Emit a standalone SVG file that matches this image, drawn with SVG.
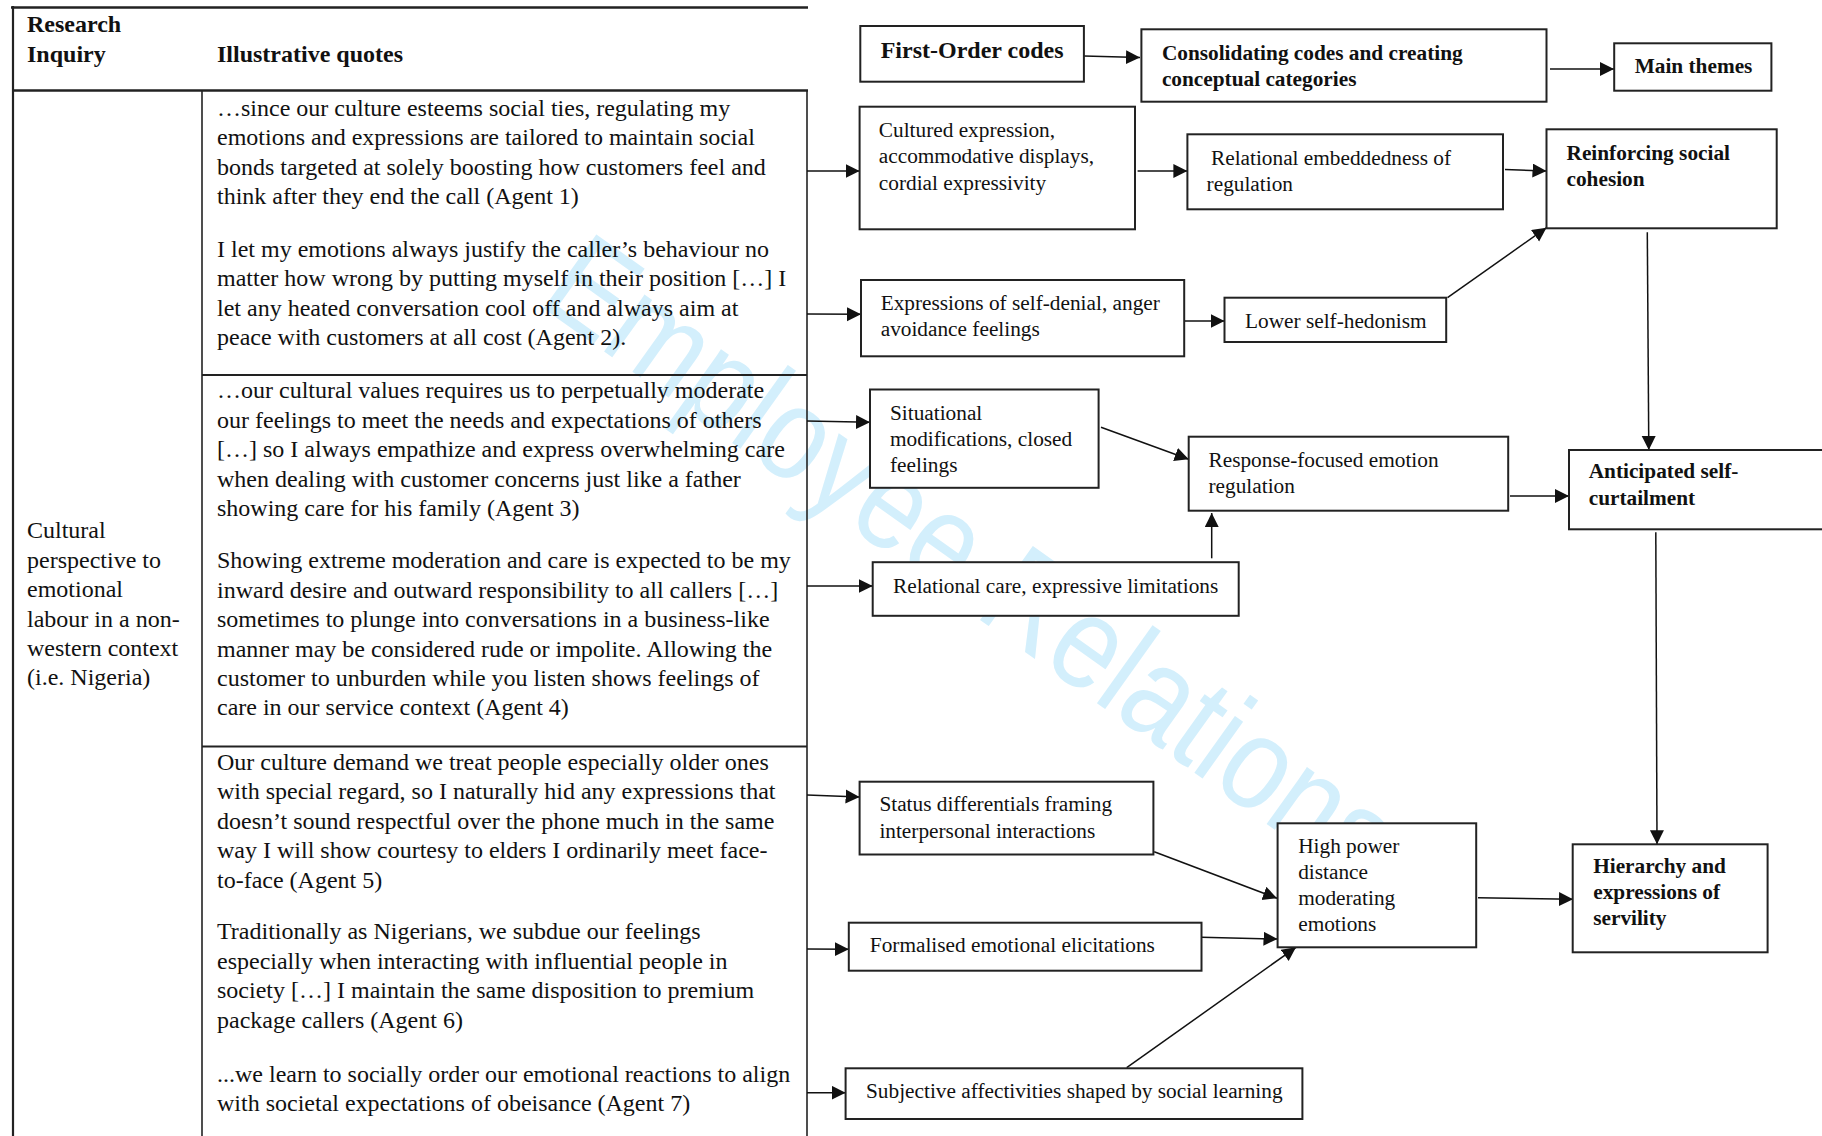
<svg xmlns="http://www.w3.org/2000/svg" width="1822" height="1136" viewBox="0 0 1822 1136">
<style>
.t{font-family:"Liberation Serif","Times New Roman",serif;font-size:24px;fill:#111}
.b{font-weight:bold}
.f{font-family:"Liberation Serif","Times New Roman",serif;font-size:21.3px;fill:#111}
.fb{font-family:"Liberation Serif","Times New Roman",serif;font-size:21.3px;font-weight:bold;fill:#111}
.box{fill:#fff;stroke:#222;stroke-width:2}
.c{stroke:#111;stroke-width:1.5;fill:none;marker-end:url(#ah)}
.rule{stroke:#222;fill:none}
.wm{font-family:"Liberation Sans",Arial,sans-serif;font-size:132px;fill:#d3effc}
</style>
<defs>
<marker id="ah" markerUnits="userSpaceOnUse" markerWidth="15" markerHeight="15" refX="14" refY="7" orient="auto"><path d="M0,0 L14,7 L0,14 z" fill="#111"/></marker>
</defs>
<rect width="1822" height="1136" fill="#fff"/>
<g id="watermark"><text class="wm" transform="translate(536,303) rotate(35.5) scale(0.86,1)">Employee Relations</text></g>
<g id="table">
<line class="rule" x1="11" y1="7.5" x2="808" y2="7.5" stroke-width="2.6"/>
<line class="rule" x1="13" y1="90.5" x2="808" y2="90.5" stroke-width="2.6"/>
<line class="rule" x1="13" y1="6" x2="13" y2="1136" stroke-width="2.2"/>
<line class="rule" x1="202" y1="91" x2="202" y2="1136" stroke-width="1.6"/>
<line class="rule" x1="807" y1="91" x2="807" y2="1136" stroke-width="1.6"/>
<line class="rule" x1="202" y1="375" x2="807" y2="375" stroke-width="1.8"/>
<line class="rule" x1="202" y1="746.5" x2="807" y2="746.5" stroke-width="1.8"/>
<text class="t b" x="27" y="32">Research</text>
<text class="t b" x="27" y="61.5">Inquiry</text>
<text class="t b" x="217" y="61.5">Illustrative quotes</text>
<text class="t" x="27" y="538.3"><tspan x="27">Cultural</tspan><tspan x="27" dy="29.4">perspective to</tspan><tspan x="27" dy="29.4">emotional</tspan><tspan x="27" dy="29.4">labour in a non-</tspan><tspan x="27" dy="29.4">western context</tspan><tspan x="27" dy="29.4">(i.e. Nigeria)</tspan></text>
<text class="t" y="116"><tspan x="217">…since our culture esteems social ties, regulating my</tspan><tspan x="217" dy="29.4">emotions and expressions are tailored to maintain social</tspan><tspan x="217" dy="29.4">bonds targeted at solely boosting how customers feel and</tspan><tspan x="217" dy="29.4">think after they end the call (Agent 1)</tspan></text>
<text class="t" y="257"><tspan x="217">I let my emotions always justify the caller’s behaviour no</tspan><tspan x="217" dy="29.4">matter how wrong by putting myself in their position […] I</tspan><tspan x="217" dy="29.4">let any heated conversation cool off and always aim at</tspan><tspan x="217" dy="29.4">peace with customers at all cost (Agent 2).</tspan></text>
<text class="t" y="398.3"><tspan x="217">…our cultural values requires us to perpetually moderate</tspan><tspan x="217" dy="29.4">our feelings to meet the needs and expectations of others</tspan><tspan x="217" dy="29.4">[…] so I always empathize and express overwhelming care</tspan><tspan x="217" dy="29.4">when dealing with customer concerns just like a father</tspan><tspan x="217" dy="29.4">showing care for his family (Agent 3)</tspan></text>
<text class="t" y="568.3"><tspan x="217">Showing extreme moderation and care is expected to be my</tspan><tspan x="217" dy="29.4">inward desire and outward responsibility to all callers […]</tspan><tspan x="217" dy="29.4">sometimes to plunge into conversations in a business-like</tspan><tspan x="217" dy="29.4">manner may be considered rude or impolite. Allowing the</tspan><tspan x="217" dy="29.4">customer to unburden while you listen shows feelings of</tspan><tspan x="217" dy="29.4">care in our service context (Agent 4)</tspan></text>
<text class="t" y="770"><tspan x="217">Our culture demand we treat people especially older ones</tspan><tspan x="217" dy="29.4">with special regard, so I naturally hid any expressions that</tspan><tspan x="217" dy="29.4">doesn’t sound respectful over the phone much in the same</tspan><tspan x="217" dy="29.4">way I will show courtesy to elders I ordinarily meet face-</tspan><tspan x="217" dy="29.4">to-face (Agent 5)</tspan></text>
<text class="t" y="939.3"><tspan x="217">Traditionally as Nigerians, we subdue our feelings</tspan><tspan x="217" dy="29.4">especially when interacting with influential people in</tspan><tspan x="217" dy="29.4">society […] I maintain the same disposition to premium</tspan><tspan x="217" dy="29.4">package callers (Agent 6)</tspan></text>
<text class="t" y="1081.7"><tspan x="217">...we learn to socially order our emotional reactions to align</tspan><tspan x="217" dy="29.4">with societal expectations of obeisance (Agent 7)</tspan></text>
</g>
<g id="connectors">
<line class="c" x1="1084" y1="56" x2="1140" y2="57.5"/>
<line class="c" x1="1550" y1="69" x2="1614" y2="69"/>
<line class="c" x1="807" y1="171" x2="859.6" y2="171"/>
<line class="c" x1="1137.6" y1="171" x2="1187.4" y2="171"/>
<line class="c" x1="1505" y1="169.5" x2="1546.5" y2="171"/>
<line class="c" x1="807" y1="314" x2="861" y2="314.3"/>
<line class="c" x1="1184" y1="321" x2="1224.5" y2="321"/>
<line class="c" x1="1447.5" y1="297.7" x2="1546.5" y2="227.7"/>
<line class="c" x1="1647.3" y1="232.3" x2="1648.8" y2="450"/>
<line class="c" x1="807" y1="421" x2="870" y2="422.3"/>
<line class="c" x1="1101" y1="427.3" x2="1188.7" y2="459.3"/>
<line class="c" x1="1510" y1="496" x2="1569" y2="496"/>
<line class="c" x1="807" y1="586" x2="872.7" y2="586"/>
<line class="c" x1="1211.7" y1="558.3" x2="1211.7" y2="513"/>
<line class="c" x1="1655.8" y1="532.3" x2="1657" y2="844.3"/>
<line class="c" x1="807" y1="795" x2="859.6" y2="797"/>
<line class="c" x1="1154.2" y1="851.7" x2="1277" y2="898.3"/>
<line class="c" x1="807" y1="949" x2="848.8" y2="949.3"/>
<line class="c" x1="1201.5" y1="937.3" x2="1277.5" y2="939"/>
<line class="c" x1="807" y1="1092.7" x2="845.6" y2="1092.7"/>
<line class="c" x1="1126.7" y1="1067.7" x2="1296" y2="947.3"/>
<line class="c" x1="1478" y1="897.7" x2="1573" y2="899.3"/>
</g>
<g id="n-first-order"><rect class="box" x="860.3" y="26" width="223.6" height="55.7"/><text class="t b" x="880.7" y="58.3">First-Order codes</text></g>
<g id="n-consolidating"><rect class="box" x="1141.4" y="29.3" width="405.1" height="72.4"/><text class="fb" x="1161.9" y="60">Consolidating codes and creating</text><text class="fb" x="1161.9" y="85.5">conceptual categories</text></g>
<g id="n-main-themes"><rect class="box" x="1614.2" y="43.3" width="157.2" height="47.4"/><text class="fb" x="1634.7" y="72.7">Main themes</text></g>
<g id="n-cultured"><rect class="box" x="859.6" y="106.7" width="275.4" height="122.6"/><text class="f" x="878.8" y="136.7">Cultured expression,</text><text class="f" x="878.8" y="163.2">accommodative displays,</text><text class="f" x="878.8" y="189.5">cordial expressivity</text></g>
<g id="n-relational-embeddedness"><rect class="box" x="1187.4" y="134.3" width="315.6" height="75"/><text class="f" x="1211" y="165">Relational embeddedness of</text><text class="f" x="1206.6" y="190.5">regulation</text></g>
<g id="n-reinforcing"><rect class="box" x="1546.5" y="129.3" width="230.2" height="99"/><text class="fb" x="1566.5" y="160">Reinforcing social</text><text class="fb" x="1566.5" y="186">cohesion</text></g>
<g id="n-self-denial"><rect class="box" x="861" y="280" width="323.2" height="76.3"/><text class="f" x="880.7" y="310">Expressions of self-denial, anger</text><text class="f" x="880.7" y="336">avoidance feelings</text></g>
<g id="n-lower-hedonism"><rect class="box" x="1224.5" y="297.7" width="221.7" height="44.3"/><text class="f" x="1245" y="328.3">Lower self-hedonism</text></g>
<g id="n-situational"><rect class="box" x="870" y="389.5" width="228.6" height="98.3"/><text class="f" x="890" y="420">Situational</text><text class="f" x="890" y="446.3">modifications, closed</text><text class="f" x="890" y="472.3">feelings</text></g>
<g id="n-response-focused"><rect class="box" x="1188.7" y="436.7" width="319.5" height="74"/><text class="f" x="1208.5" y="466.7">Response-focused emotion</text><text class="f" x="1208.5" y="492.7">regulation</text></g>
<g id="n-anticipated"><rect class="box" x="1569" y="450" width="280" height="79.3"/><text class="fb" x="1588.7" y="478.3">Anticipated self-</text><text class="fb" x="1588.7" y="505">curtailment</text></g>
<g id="n-relational-care"><rect class="box" x="872.7" y="562.2" width="366" height="53.6"/><text class="f" x="893" y="592.7">Relational care, expressive limitations</text></g>
<g id="n-status"><rect class="box" x="859.6" y="781.7" width="293.8" height="72.8"/><text class="f" x="879.4" y="811.3">Status differentials framing</text><text class="f" x="879.4" y="838">interpersonal interactions</text></g>
<g id="n-high-power"><rect class="box" x="1277.6" y="823.3" width="198.6" height="124"/><text class="f" x="1298.2" y="852.7">High power</text><text class="f" x="1298.2" y="878.7">distance</text><text class="f" x="1298.2" y="905">moderating</text><text class="f" x="1298.2" y="930.7">emotions</text></g>
<g id="n-hierarchy"><rect class="box" x="1572.7" y="844.3" width="194.9" height="108"/><text class="fb" x="1593.2" y="873.3">Hierarchy and</text><text class="fb" x="1593.2" y="899.3">expressions of</text><text class="fb" x="1593.2" y="925">servility</text></g>
<g id="n-formalised"><rect class="box" x="848.8" y="922.7" width="352.7" height="48"/><text class="f" x="869.8" y="951.7">Formalised emotional elicitations</text></g>
<g id="n-subjective"><rect class="box" x="845.6" y="1068.3" width="456.8" height="50.7"/><text class="f" x="866" y="1098.3">Subjective affectivities shaped by social learning</text></g>
</svg>
